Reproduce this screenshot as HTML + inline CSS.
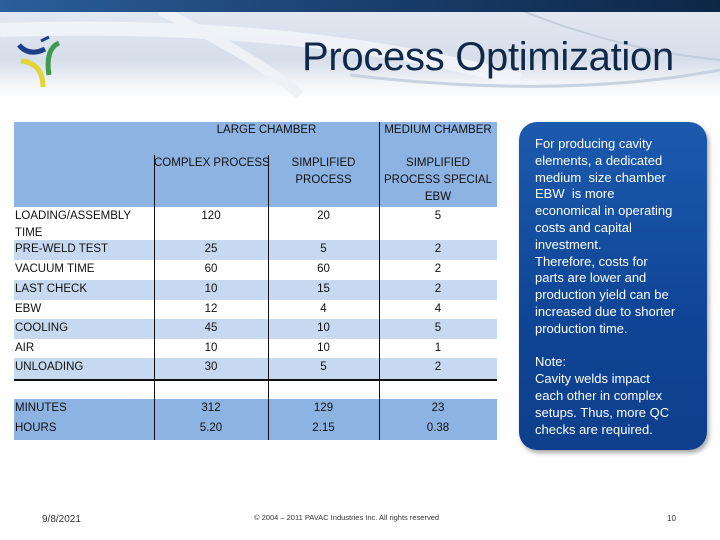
<!DOCTYPE html>
<html><head><meta charset="utf-8"><style>
body{margin:0;width:720px;height:540px;overflow:hidden;background:#fff;font-family:"Liberation Sans",sans-serif;position:relative}
.abs{position:absolute}
.t{position:absolute;font-size:11.5px;color:#111;line-height:17px}
.c{text-align:center}
</style></head><body>
<div class="abs" style="left:0;top:0;width:720px;height:100px;background:linear-gradient(180deg,#e4eaf3 0%,#d6deea 60%,#f4f6f9 85%,#fff 100%)"></div>
<svg class="abs" style="left:0;top:0" width="720" height="100">
<path d="M0 30 Q300 20 520 80" stroke="#f3f6fa" stroke-width="14" fill="none" opacity="0.8"/>
<path d="M160 10 Q260 60 300 95" stroke="#eef2f7" stroke-width="10" fill="none"/>
<path d="M520 10 Q620 50 720 60" stroke="#c3cedd" stroke-width="2" fill="none"/>
<path d="M350 75 Q560 100 720 70" stroke="#c8d2e0" stroke-width="3" fill="none"/>
</svg>
<div class="abs" style="left:0;top:0;width:720px;height:12px;background:linear-gradient(90deg,#2b5e9a,#173a66 60%,#0e2747)"></div>
<svg class="abs" style="left:15px;top:35px" width="50" height="60">
<path d="M4 10 Q14 22 30 14" stroke="#1d3f8a" stroke-width="5" fill="none"/>
<path d="M26 6 L34 2" stroke="#1d3f8a" stroke-width="3"/>
<path d="M44 8 Q30 14 34 40" stroke="#3e9a4c" stroke-width="5" fill="none"/>
<path d="M6 26 Q28 28 28 52" stroke="#e3d43a" stroke-width="5" fill="none"/>
</svg>
<div class="abs" style="left:302px;top:35px;font-size:40px;color:#10284a;letter-spacing:-0.3px">Process Optimization</div>

<div class="abs" style="left:14px;top:122px;width:483px;height:85px;background:#8db3e2"></div>
<div class="abs" style="left:14px;top:240px;width:483px">
<div style="position:absolute;top:0;height:20px;width:483px;background:#c6d9f1"></div>
<div style="position:absolute;top:40px;height:20px;width:483px;background:#c6d9f1"></div>
<div style="position:absolute;top:79px;height:20px;width:483px;background:#c6d9f1"></div>
<div style="position:absolute;top:118px;height:21px;width:483px;background:#c6d9f1"></div>
</div>
<div class="abs" style="left:14px;top:399px;width:483px;height:41px;background:#8db3e2"></div>
<div class="abs" style="left:14px;top:379px;width:483px;height:2px;background:#111"></div>
<div class="abs" style="left:154px;top:155px;width:1px;height:285px;background:#111"></div>
<div class="abs" style="left:268px;top:155px;width:1px;height:285px;background:#111"></div>
<div class="abs" style="left:379px;top:122px;width:1px;height:318px;background:#111"></div>

<div class="t c" style="left:154px;top:122px;width:225px">LARGE CHAMBER</div>
<div class="t c" style="left:379px;top:122px;width:118px">MEDIUM CHAMBER</div>
<div class="t c" style="left:154px;top:155px;width:114px;white-space:nowrap">COMPLEX PROCESS</div>
<div class="t c" style="left:268px;top:155px;width:111px">SIMPLIFIED<br>PROCESS</div>
<div class="t c" style="left:379px;top:155px;width:118px">SIMPLIFIED<br>PROCESS SPECIAL<br>EBW</div>

<div id="rows"></div>
<div class="abs" style="left:519px;top:122px;width:188px;height:328px;border-radius:18px;background:linear-gradient(180deg,#1c5aae,#0f4596 60%,#0d3f8c);box-shadow:2px 3px 5px rgba(0,0,0,0.35)"></div>
<div class="abs" style="left:535px;top:136px;width:156px;font-size:13px;line-height:16.8px;color:#fff">For producing cavity<br>elements, a dedicated<br>medium&nbsp; size chamber<br>EBW&nbsp; is more<br>economical in operating<br>costs and capital<br>investment.<br>Therefore, costs for<br>parts are lower and<br>production yield can be<br>increased due to shorter<br>production time.<br><br>Note:<br>Cavity welds impact<br>each other in complex<br>setups. Thus, more QC<br>checks are required.</div>

<div class="abs" style="left:42px;top:514px;font-size:10px;color:#333">9/8/2021</div>
<div class="abs" style="left:254px;top:513px;font-size:7.5px;color:#333">© 2004 – 2011 PAVAC Industries Inc. All rights reserved</div>
<div class="abs" style="left:667px;top:514px;font-size:8px;color:#333">10</div>

<script>
const labels=["LOADING/ASSEMBLY TIME","PRE-WELD TEST","VACUUM TIME","LAST CHECK","EBW","COOLING","AIR","UNLOADING","MINUTES","HOURS"];
const complexVals=["120","25","60","10","12","45","10","30","312","5.20"];
const simplifiedVals=["20","5","60","15","4","10","10","5","129","2.15"];
const specialVals=["5","2","2","2","4","5","1","2","23","0.38"];
const rowTops=[207,240,260,280,300,319,339,358,399,419];
const host=document.getElementById('rows');
labels.forEach((l,i)=>{
  const y=rowTops[i]+1;
  const a=document.createElement('div');a.className='t';
  
  
  a.style.cssText=`left:15px;top:${y}px;width:135px`;a.innerHTML=i===0?'LOADING/ASSEMBLY<br>TIME':l;host.appendChild(a);
  [[complexVals,154,114],[simplifiedVals,268,111],[specialVals,379,118]].forEach(([arr,x,w])=>{
    const d=document.createElement('div');d.className='t c';
    
    
    d.style.cssText=`left:${x}px;top:${y}px;width:${w}px`;d.textContent=arr[i];host.appendChild(d);
  });
});
</script>
</body></html>
